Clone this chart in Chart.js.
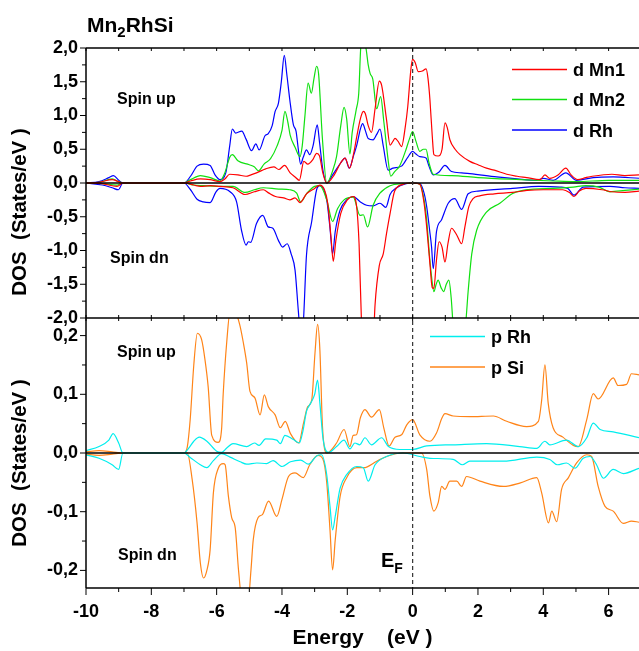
<!DOCTYPE html>
<html>
<head>
<meta charset="utf-8">
<script src="https://cdn.jsdelivr.net/npm/chart.js@4.4.1/dist/chart.umd.min.js"></script>
<style>
  html, body { margin: 0; padding: 0; background: #fff; overflow: hidden; }
  #wrap { position: relative; width: 639px; height: 651px; }
</style>
</head>
<body>
<div id="wrap"><canvas id="dos" width="639" height="651"></canvas></div>
<script>
const FONT = "'Liberation Sans', Arial, sans-serif";

// axes
const energyMin = -10;
const energyMax = 6.93;
const energyTicks = [-10, -8, -6, -4, -2, 0, 2, 4, 6];
const dTicks = [-2, -1.5, -1, -0.5, 0, 0.5, 1, 1.5, 2];
const pTicks = [-0.2, -0.1, 0, 0.1, 0.2];

// d states, upper panel: [energy (eV), DOS (states/eV)]
const mn1Up = [[-10,0],[-9.6,0.01],[-9.2,0.05],[-9.0,0.02],[-8.87,0],[-7.0,0],[-6.8,0.03],[-6.5,0.06],[-6.2,0.05],[-5.9,0.02],[-5.75,0.06],[-5.6,0.13],[-5.35,0.12],[-5.1,0.10],[-4.95,0.12],[-4.78,0.15],[-4.5,0.21],[-4.25,0.24],[-4.1,0.20],[-3.92,0.26],[-3.75,0.15],[-3.6,0.09],[-3.47,0.04],[-3.33,0.32],[-3.21,0.28],[-3.05,0.35],[-2.94,0.44],[-2.85,0.40],[-2.75,0.15],[-2.63,0],[-2.4,0.12],[-2.2,0.30],[-2.07,0.37],[-1.93,0.22],[-1.8,0.45],[-1.71,0.69],[-1.6,0.95],[-1.51,1.06],[-1.45,1.03],[-1.36,0.85],[-1.26,0.75],[-1.15,1.10],[-1.02,1.51],[-0.95,1.45],[-0.8,0.94],[-0.69,0.56],[-0.6,0.62],[-0.54,0.66],[-0.45,0.62],[-0.34,0.54],[-0.22,0.85],[-0.15,1.13],[-0.05,1.70],[0.0,1.83],[0.08,1.78],[0.17,1.65],[0.3,1.66],[0.41,1.69],[0.47,1.55],[0.53,1.23],[0.6,0.70],[0.65,0.42],[0.78,0.40],[0.9,0.50],[0.99,0.89],[1.06,0.82],[1.14,0.64],[1.3,0.50],[1.45,0.42],[1.75,0.32],[2.0,0.27],[2.26,0.22],[2.5,0.19],[2.88,0.13],[3.2,0.10],[3.49,0.08],[3.9,0.05],[4.05,0.12],[4.2,0.07],[4.45,0.12],[4.69,0.22],[4.85,0.12],[5.05,0.05],[5.3,0.08],[5.5,0.10],[6.1,0.13],[6.5,0.11],[6.93,0.12]];
const mn1Dn = [[-10,0],[-9.5,-0.01],[-9.05,-0.05],[-8.87,0],[-7.0,0],[-6.7,-0.03],[-6.5,-0.05],[-6.2,-0.04],[-5.9,-0.05],[-5.5,-0.07],[-5.13,-0.17],[-4.85,-0.13],[-4.57,-0.10],[-4.4,-0.15],[-4.2,-0.20],[-3.95,-0.22],[-3.76,-0.25],[-3.6,-0.22],[-3.45,-0.29],[-3.25,-0.16],[-3.0,-0.08],[-2.84,-0.03],[-2.7,-0.10],[-2.6,-0.30],[-2.5,-0.80],[-2.43,-1.16],[-2.35,-0.85],[-2.2,-0.45],[-2.0,-0.25],[-1.82,-0.20],[-1.72,-0.33],[-1.64,-0.9],[-1.57,-2.0],[-1.5,-2.5],[-1.35,-2.7],[-1.2,-2.3],[-1.15,-1.8],[-1.02,-1.22],[-0.9,-1.05],[-0.8,-0.75],[-0.69,-0.45],[-0.55,-0.12],[-0.3,-0.02],[0.0,0],[0.22,-0.02],[0.35,-0.3],[0.43,-0.65],[0.53,-1.2],[0.6,-1.55],[0.65,-1.56],[0.73,-1.14],[0.81,-0.87],[0.9,-0.95],[0.99,-1.17],[1.08,-0.9],[1.19,-0.67],[1.35,-0.77],[1.50,-0.90],[1.6,-0.65],[1.72,-0.35],[1.85,-0.23],[2.05,-0.19],[2.5,-0.16],[3.06,-0.14],[3.5,-0.11],[4.0,-0.10],[4.6,-0.10],[4.8,-0.14],[4.94,-0.20],[5.1,-0.12],[5.3,-0.08],[5.8,-0.10],[6.1,-0.13],[6.5,-0.14],[6.93,-0.12]];
const mn2Up = [[-10,0],[-9.6,0.01],[-9.2,0.06],[-9.0,0.02],[-8.87,0],[-7.0,0],[-6.8,0.05],[-6.5,0.11],[-6.2,0.08],[-5.9,0.03],[-5.75,0.15],[-5.6,0.38],[-5.52,0.42],[-5.35,0.33],[-5.0,0.27],[-4.85,0.24],[-4.72,0.18],[-4.55,0.28],[-4.35,0.36],[-4.15,0.55],[-4.0,0.78],[-3.91,1.06],[-3.82,0.90],[-3.75,0.71],[-3.6,0.53],[-3.45,0.39],[-3.38,0.55],[-3.3,0.98],[-3.2,1.48],[-3.1,1.33],[-3.02,1.55],[-2.94,1.73],[-2.88,1.62],[-2.76,0.64],[-2.63,0],[-2.45,0.18],[-2.33,0.39],[-2.2,0.85],[-2.1,1.12],[-2.02,0.95],[-1.92,0.43],[-1.85,0.75],[-1.73,1.08],[-1.65,1.33],[-1.58,2.05],[-1.5,2.1],[-1.43,2.0],[-1.36,1.75],[-1.3,1.62],[-1.22,1.54],[-1.1,1.10],[-0.98,1.28],[-0.88,0.90],[-0.75,0.34],[-0.67,0.10],[-0.55,0.17],[-0.4,0.25],[-0.2,0.50],[-0.1,0.65],[0.0,0.76],[0.1,0.62],[0.22,0.47],[0.33,0.50],[0.41,0.50],[0.5,0.30],[0.63,0.13],[1.2,0.11],[2.0,0.08],[3.3,0.05],[4.3,0.03],[5.0,0.02],[6.0,0.04],[6.93,0.04]];
const mn2Dn = [[-10,0],[-9.5,-0.01],[-9.05,-0.03],[-8.87,0],[-7.0,0],[-6.7,-0.03],[-6.4,-0.04],[-6.0,-0.05],[-5.5,-0.05],[-5.13,-0.14],[-4.85,-0.10],[-4.57,-0.07],[-4.1,-0.09],[-3.76,-0.10],[-3.55,-0.15],[-3.43,-0.28],[-3.25,-0.16],[-3.0,-0.05],[-2.84,-0.04],[-2.63,-0.25],[-2.45,-0.57],[-2.3,-0.38],[-2.1,-0.25],[-1.82,-0.21],[-1.61,-0.48],[-1.51,-0.47],[-1.38,-0.65],[-1.21,-0.33],[-1.0,-0.15],[-0.69,-0.04],[-0.3,-0.01],[0,0],[0.22,-0.02],[0.35,-0.25],[0.43,-0.55],[0.52,-1.1],[0.58,-1.39],[0.65,-1.61],[0.72,-1.50],[0.78,-1.44],[0.87,-1.55],[0.95,-1.61],[1.03,-1.5],[1.11,-1.44],[1.18,-1.7],[1.24,-2.1],[1.45,-2.5],[1.62,-2.1],[1.7,-1.6],[1.81,-1.05],[1.96,-0.70],[2.26,-0.43],[2.67,-0.30],[3.08,-0.15],[3.70,-0.09],[4.31,-0.08],[4.92,-0.06],[5.3,-0.04],[5.7,-0.06],[6.04,-0.13],[6.5,-0.11],[6.93,-0.09]];
const rhDUp = [[-10,0],[-9.6,0.02],[-9.3,0.08],[-9.16,0.11],[-9.0,0.04],[-8.87,0],[-7.0,0],[-6.8,0.1],[-6.6,0.25],[-6.4,0.28],[-6.2,0.26],[-6.05,0.12],[-5.9,0.05],[-5.72,0.15],[-5.6,0.55],[-5.52,0.80],[-5.42,0.74],[-5.23,0.77],[-5.1,0.65],[-4.93,0.48],[-4.80,0.58],[-4.70,0.49],[-4.52,0.70],[-4.42,0.73],[-4.3,0.85],[-4.21,1.06],[-4.11,1.18],[-4.02,1.5],[-3.93,1.89],[-3.85,1.6],[-3.76,1.23],[-3.65,0.86],[-3.57,0.77],[-3.5,0.5],[-3.43,0.28],[-3.35,0.38],[-3.25,0.49],[-3.15,0.42],[-3.05,0.55],[-2.92,0.86],[-2.85,0.6],[-2.75,0.2],[-2.63,0],[-2.45,0.12],[-2.2,0.30],[-2.07,0.37],[-1.94,0.22],[-1.8,0.42],[-1.71,0.56],[-1.6,0.80],[-1.53,0.88],[-1.45,0.78],[-1.36,0.66],[-1.21,0.64],[-1.1,0.72],[-1.0,0.80],[-0.9,0.55],[-0.75,0.19],[-0.6,0.22],[-0.34,0.25],[-0.15,0.38],[0.0,0.47],[0.1,0.43],[0.22,0.39],[0.41,0.37],[0.5,0.25],[0.63,0.12],[0.8,0.16],[0.99,0.26],[1.19,0.17],[1.5,0.15],[1.75,0.14],[2.57,0.09],[3.2,0.06],[3.8,0.04],[4.0,0.07],[4.3,0.04],[4.69,0.15],[5.02,0.04],[5.53,0.08],[6.14,0.09],[6.93,0.07]];
const rhDDn = [[-10,0],[-9.5,-0.03],[-9.2,-0.07],[-9.01,-0.10],[-8.87,0],[-7.0,0],[-6.8,-0.1],[-6.6,-0.24],[-6.41,-0.28],[-6.2,-0.29],[-6.02,-0.13],[-5.9,-0.08],[-5.59,-0.13],[-5.39,-0.28],[-5.24,-0.70],[-5.10,-0.92],[-5.03,-0.87],[-4.96,-0.88],[-4.78,-0.60],[-4.59,-0.48],[-4.42,-0.65],[-4.28,-0.67],[-4.11,-0.85],[-3.98,-0.95],[-3.84,-0.90],[-3.72,-1.05],[-3.6,-1.29],[-3.5,-1.89],[-3.42,-2.3],[-3.35,-2.1],[-3.25,-1.07],[-3.09,-0.57],[-2.94,-0.10],[-2.84,-0.04],[-2.63,-0.25],[-2.53,-0.67],[-2.45,-1.05],[-2.37,-0.72],[-2.22,-0.40],[-2.02,-0.25],[-1.82,-0.20],[-1.6,-0.28],[-1.41,-0.33],[-1.21,-0.34],[-1.0,-0.30],[-0.82,-0.36],[-0.69,-0.17],[-0.49,-0.07],[-0.2,-0.01],[0,0],[0.22,-0.01],[0.35,-0.15],[0.43,-0.35],[0.52,-0.70],[0.58,-0.95],[0.63,-1.27],[0.73,-0.72],[0.89,-0.54],[1.09,-0.30],[1.29,-0.23],[1.50,-0.39],[1.70,-0.16],[2.0,-0.12],[3.06,-0.08],[3.86,-0.05],[4.51,-0.06],[4.75,-0.08],[4.94,-0.18],[5.22,-0.06],[6.04,-0.05],[6.5,-0.07],[6.93,-0.08]];

// p states, lower panel
const rhPUp = [[-10,0.004],[-9.6,0.011],[-9.3,0.022],[-9.17,0.033],[-9.0,0.017],[-8.87,0],[-7.0,0],[-6.86,0.008],[-6.7,0.02],[-6.53,0.027],[-6.3,0.02],[-6.0,0.003],[-5.85,0.001],[-5.7,0.008],[-5.5,0.016],[-5.08,0.011],[-4.84,0.017],[-4.7,0.013],[-4.5,0.024],[-4.16,0.022],[-4.05,0.016],[-3.91,0.030],[-3.65,0.023],[-3.47,0.017],[-3.35,0.04],[-3.25,0.071],[-3.12,0.085],[-3.0,0.1],[-2.91,0.124],[-2.84,0.085],[-2.74,0.023],[-2.58,0.001],[-2.33,0.011],[-2.10,0.022],[-1.92,0.007],[-1.77,0.017],[-1.62,0.014],[-1.46,0.026],[-1.26,0.014],[-0.95,0.026],[-0.74,0.011],[-0.39,0.006],[0,0.006],[0.43,0.012],[1.24,0.014],[2.26,0.016],[3.28,0.011],[3.8,0.008],[4.05,0.02],[4.2,0.014],[4.71,0.022],[5.07,0.011],[5.33,0.026],[5.53,0.051],[5.74,0.04],[6.14,0.036],[6.93,0.026]];
const rhPDn = [[-10,-0.003],[-9.6,-0.009],[-9.2,-0.02],[-9.0,-0.028],[-8.87,0],[-7.0,0],[-6.8,-0.008],[-6.5,-0.020],[-6.3,-0.025],[-6.1,-0.013],[-5.85,-0.001],[-5.59,-0.007],[-5.28,-0.015],[-5.08,-0.019],[-4.77,-0.017],[-4.47,-0.018],[-4.27,-0.013],[-4.0,-0.023],[-3.74,-0.015],[-3.43,-0.012],[-3.19,-0.019],[-2.94,-0.005],[-2.79,-0.003],[-2.63,-0.037],[-2.53,-0.091],[-2.45,-0.131],[-2.37,-0.108],[-2.22,-0.06],[-2.02,-0.037],[-1.71,-0.023],[-1.51,-0.025],[-1.36,-0.048],[-1.15,-0.02],[-0.8,-0.006],[-0.3,0],[0.22,-0.006],[0.53,-0.009],[1.24,-0.011],[1.52,-0.020],[1.75,-0.014],[2.78,-0.014],[3.8,-0.007],[4.2,-0.011],[4.43,-0.02],[4.71,-0.017],[4.97,-0.026],[5.22,-0.009],[5.43,-0.006],[5.63,-0.02],[5.84,-0.043],[6.14,-0.028],[6.45,-0.035],[6.93,-0.026]];
const siPUp = [[-10,0.002],[-9.6,0.004],[-9.2,0.002],[-8.87,0],[-7.0,0],[-6.9,0.01],[-6.81,0.057],[-6.7,0.15],[-6.59,0.204],[-6.46,0.193],[-6.36,0.160],[-6.26,0.113],[-6.15,0.030],[-5.95,0.018],[-5.85,0.04],[-5.8,0.10],[-5.69,0.19],[-5.59,0.24],[-5.44,0.24],[-5.3,0.22],[-5.18,0.187],[-5.08,0.153],[-4.98,0.105],[-4.83,0.094],[-4.67,0.065],[-4.54,0.099],[-4.42,0.079],[-4.21,0.065],[-4.05,0.043],[-3.90,0.054],[-3.74,0.033],[-3.49,0.017],[-3.34,0.051],[-3.21,0.079],[-3.09,0.09],[-2.99,0.17],[-2.91,0.219],[-2.84,0.176],[-2.76,0.045],[-2.63,0],[-2.33,0.017],[-2.10,0.04],[-1.92,0.011],[-1.82,0.03],[-1.72,0.031],[-1.6,0.06],[-1.46,0.074],[-1.26,0.061],[-1.02,0.074],[-0.88,0.042],[-0.72,0.012],[-0.54,0.027],[-0.34,0.031],[-0.18,0.048],[0,0.057],[0.22,0.031],[0.53,0.02],[0.73,0.034],[0.9,0.06],[0.99,0.067],[1.24,0.063],[1.75,0.062],[2.47,0.063],[2.88,0.054],[3.49,0.045],[3.85,0.054],[3.95,0.09],[4.05,0.150],[4.15,0.085],[4.3,0.043],[4.6,0.027],[4.92,0.013],[5.07,0.011],[5.33,0.057],[5.53,0.101],[5.68,0.092],[6.14,0.128],[6.29,0.115],[6.55,0.117],[6.70,0.135],[6.93,0.133]];
const siPDn = [[-10,-0.002],[-9.6,-0.004],[-9.2,-0.002],[-8.87,0],[-6.9,0],[-6.75,-0.045],[-6.6,-0.119],[-6.5,-0.187],[-6.4,-0.213],[-6.3,-0.20],[-6.2,-0.165],[-6.1,-0.068],[-5.95,-0.026],[-5.8,-0.018],[-5.74,-0.02],[-5.64,-0.074],[-5.54,-0.11],[-5.43,-0.128],[-5.33,-0.2],[-5.2,-0.26],[-5.05,-0.26],[-4.95,-0.2],[-4.88,-0.148],[-4.73,-0.11],[-4.60,-0.105],[-4.41,-0.082],[-4.16,-0.108],[-4.0,-0.079],[-3.8,-0.04],[-3.6,-0.034],[-3.35,-0.042],[-3.15,-0.02],[-2.9,-0.004],[-2.75,-0.01],[-2.63,-0.05],[-2.53,-0.131],[-2.45,-0.199],[-2.37,-0.148],[-2.22,-0.074],[-2.02,-0.042],[-1.71,-0.025],[-1.5,-0.025],[-1.1,-0.014],[-0.8,-0.006],[-0.3,0],[0.27,0],[0.43,-0.028],[0.53,-0.074],[0.65,-0.099],[0.78,-0.085],[0.89,-0.057],[0.99,-0.062],[1.14,-0.048],[1.35,-0.048],[1.50,-0.057],[1.65,-0.040],[2.06,-0.048],[2.78,-0.057],[3.3,-0.051],[3.8,-0.042],[3.95,-0.068],[4.16,-0.119],[4.26,-0.099],[4.41,-0.117],[4.56,-0.062],[4.77,-0.042],[5.02,-0.017],[5.33,-0.003],[5.48,-0.006],[5.68,-0.057],[5.89,-0.091],[6.14,-0.099],[6.45,-0.120],[6.70,-0.116],[6.93,-0.118]];

const series = [
  { label: 'd Mn1', up: mn1Up, dn: mn1Dn, color: '#ff0000', axis: 'yD' },
  { label: 'd Mn2', up: mn2Up, dn: mn2Dn, color: '#10e010', axis: 'yD' },
  { label: 'd Rh',  up: rhDUp, dn: rhDDn, color: '#0000ff', axis: 'yD' },
  { label: 'p Rh',  up: rhPUp, dn: rhPDn, color: '#00eeee', axis: 'yP' },
  { label: 'p Si',  up: siPUp, dn: siPDn, color: '#ff8418', axis: 'yP' }
];

const toXY = (pts) => pts.map(([x, y]) => ({ x, y }));
const datasets = [];
series.forEach((s) => {
  [s.up, s.dn].forEach((pts) => {
    datasets.push({
      label: s.label,
      data: toXY(pts),
      yAxisID: s.axis,
      borderColor: s.color,
      borderWidth: 1.2,
      pointRadius: 0,
      showLine: true,
      fill: false,
      cubicInterpolationMode: 'monotone'
    });
  });
});

const comma = (v) => v.toFixed(1).replace('.', ',');
const fixTicks = (list) => (scale) => { scale.ticks = list.map((value) => ({ value })); };

function seg(ctx, x1, y1, x2, y2) {
  ctx.beginPath();
  ctx.moveTo(x1, y1);
  ctx.lineTo(x2, y2);
  ctx.stroke();
}

function label(ctx, str, x, y, size) {
  ctx.font = 'bold ' + size + 'px ' + FONT;
  ctx.fillText(str, x, y);
  return x + ctx.measureText(str).width;
}

// panel clipping, frame, tick marks and annotations
const dosDecor = {
  id: 'dosDecor',
  beforeDatasetDraw(chart, args) {
    const sc = chart.scales[chart.data.datasets[args.index].yAxisID];
    const a = chart.chartArea;
    const ctx = chart.ctx;
    ctx.save();
    ctx.beginPath();
    ctx.rect(a.left, sc.top, a.right - a.left, sc.bottom - sc.top);
    ctx.clip();
  },
  afterDatasetDraw(chart) {
    chart.ctx.restore();
  },
  afterDatasetsDraw(chart) {
    const ctx = chart.ctx;
    const { left, right, top, bottom } = chart.chartArea;
    const x = chart.scales.x, yD = chart.scales.yD, yP = chart.scales.yP;
    ctx.save();

    // zero lines
    ctx.strokeStyle = '#000';
    ctx.lineWidth = 1.5;
    [yD.getPixelForValue(0), yP.getPixelForValue(0)].forEach((py) => seg(ctx, left, py, right, py));

    // Fermi level
    const x0 = x.getPixelForValue(0);
    ctx.strokeStyle = '#333';
    ctx.lineWidth = 1.2;
    ctx.setLineDash([4, 3]);
    seg(ctx, x0, top, x0, bottom);
    ctx.setLineDash([]);

    // frame
    ctx.strokeStyle = '#000';
    ctx.lineWidth = 1.5;
    seg(ctx, left, top, right, top);
    seg(ctx, left, yD.bottom, right, yD.bottom);
    seg(ctx, left, bottom, right, bottom);
    seg(ctx, left, top, left, bottom);

    // tick marks
    ctx.lineWidth = 1;
    for (let e = -10; e <= 6; e++) {
      const px = x.getPixelForValue(e);
      const major = e % 2 === 0;
      seg(ctx, px, bottom, px, bottom + (major ? 7 : 4));
      seg(ctx, px, top, px, top + 3);
      seg(ctx, px, yD.bottom - 3, px, yD.bottom + 3);
    }
    for (let i = -8; i <= 8; i++) {
      const py = yD.getPixelForValue(i * 0.25);
      seg(ctx, left - (i % 2 === 0 ? 6 : 4), py, left, py);
    }
    for (let i = -4; i <= 4; i++) {
      const py = yP.getPixelForValue(i * 0.05);
      seg(ctx, left - (i % 2 === 0 ? 6 : 4), py, left, py);
    }

    // texts
    ctx.fillStyle = '#000';
    ctx.textAlign = 'left';
    ctx.textBaseline = 'alphabetic';
    let tx = label(ctx, 'Mn', 87, 32, 21);
    tx = label(ctx, '2', tx, 37, 15);
    label(ctx, 'RhSi', tx, 32, 21);

    label(ctx, 'Spin up', 117, 104, 16);
    label(ctx, 'Spin dn', 110, 263, 16);
    label(ctx, 'Spin up', 117, 357, 16);
    label(ctx, 'Spin dn', 118, 560, 16);

    tx = label(ctx, 'E', 381, 567, 20);
    label(ctx, 'F', tx, 573, 14);

    // legends
    const legendRows = [
      { s: series[0], y: 69.5 }, { s: series[1], y: 99.5 }, { s: series[2], y: 130 },
      { s: series[3], y: 336.5 }, { s: series[4], y: 367 }
    ];
    legendRows.forEach(({ s, y }, i) => {
      const x1 = i < 3 ? 512 : 430;
      ctx.strokeStyle = s.color;
      ctx.lineWidth = 1.5;
      seg(ctx, x1, y, x1 + 55, y);
      label(ctx, s.label, x1 + 61, y + 6.5, 18);
    });

    // rotated axis titles
    ctx.textAlign = 'center';
    ctx.textBaseline = 'middle';
    ctx.font = 'bold 20.5px ' + FONT;
    [[212, 'DOS  (States/eV )'], [463, 'DOS  (States/eV )']].forEach(([cy, str]) => {
      ctx.save();
      ctx.translate(20, cy);
      ctx.rotate(-Math.PI / 2);
      ctx.fillText(str, 0, 0);
      ctx.restore();
    });
    ctx.restore();
  }
};

const tickFont = { family: FONT, size: 18, weight: 'bold' };

new Chart(document.getElementById('dos'), {
  type: 'scatter',
  data: { datasets },
  options: {
    responsive: false,
    animation: false,
    devicePixelRatio: 1,
    layout: { padding: { top: 48, left: 0, right: 0, bottom: 0 } },
    plugins: { legend: { display: false }, tooltip: { enabled: false } },
    scales: {
      x: {
        type: 'linear',
        position: 'bottom',
        min: energyMin,
        max: energyMax,
        afterBuildTicks: fixTicks(energyTicks),
        afterFit: (s) => { s.height = 63; },
        grid: { display: false, drawTicks: false },
        border: { display: false },
        ticks: { color: '#000', font: tickFont, padding: 13, maxRotation: 0, autoSkip: false, callback: (v) => String(v) },
        title: { display: true, text: 'Energy    (eV )', color: '#000', font: { family: FONT, size: 21, weight: 'bold' }, padding: { top: 2, bottom: 0 } }
      },
      // stacked left axes are placed bottom-up in definition order
      yP: {
        type: 'linear',
        position: 'left',
        stack: 'dos',
        stackWeight: 1,
        min: -0.23,
        max: 0.23,
        afterBuildTicks: fixTicks(pTicks),
        afterFit: (s) => { s.width = 86; },
        grid: { display: false, drawTicks: false },
        border: { display: false },
        ticks: { color: '#000', font: tickFont, padding: 8, autoSkip: false, callback: comma }
      },
      yD: {
        type: 'linear',
        position: 'left',
        stack: 'dos',
        stackWeight: 1,
        min: -2,
        max: 2,
        afterBuildTicks: fixTicks(dTicks),
        afterFit: (s) => { s.width = 86; },
        grid: { display: false, drawTicks: false },
        border: { display: false },
        ticks: { color: '#000', font: tickFont, padding: 8, autoSkip: false, callback: comma }
      }
    }
  },
  plugins: [dosDecor]
});
</script>
</body>
</html>
